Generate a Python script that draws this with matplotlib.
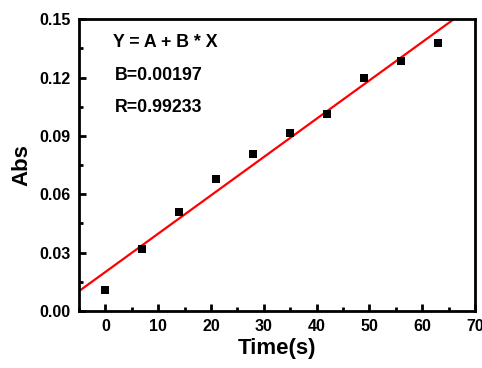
import numpy as np
import matplotlib
matplotlib.use('Agg')
import matplotlib.pyplot as plt
from matplotlib.ticker import MultipleLocator

# absorbance vs time
time_s = [0, 7, 14, 21, 28, 35, 42, 49, 56, 63]
absorb = [0.0106, 0.0320, 0.0509, 0.0678, 0.0809, 0.0913, 0.1014, 0.1198, 0.1286, 0.1375]
fit_text = ['Y = A + B * X', 'B=0.00197', 'R=0.99233']

plt.rcParams['font.family'] = ['Liberation Sans', 'DejaVu Sans']
plt.rcParams['font.weight'] = 'bold'

fig = plt.figure(figsize=(4.82, 3.68), dpi=100)
ax = fig.add_axes([0.164, 0.155, 0.8215, 0.793])

b, a = np.polyfit(time_s, absorb, 1)
xl = np.array([-5, 70])
ax.plot(xl, a + b * xl, color='red', linewidth=1.6, zorder=2)
ax.scatter(time_s, absorb, marker='s', s=30, color='black', zorder=3, linewidths=0)

ax.set_xlim(-5, 70)
ax.set_ylim(0, 0.15)
ax.xaxis.set_major_locator(MultipleLocator(10))
ax.xaxis.set_minor_locator(MultipleLocator(5))
ax.yaxis.set_major_locator(MultipleLocator(0.03))
ax.yaxis.set_minor_locator(MultipleLocator(0.015))
ax.yaxis.set_major_formatter(matplotlib.ticker.FormatStrFormatter('%.2f'))

for sp in ax.spines.values():
    sp.set_linewidth(2)
ax.tick_params(which='major', direction='in', length=5, width=2, labelsize=11.5, pad=6)
ax.tick_params(which='minor', direction='in', length=3, width=2)
ax.tick_params(top=False, right=False)

ax.set_xlabel('Time(s)', fontsize=16, fontweight='bold', labelpad=3)
ax.set_ylabel('Abs', fontsize=16, fontweight='bold', labelpad=5)

for i, t in enumerate(fit_text):
    ax.text(0.085 if i == 0 else 0.09, 0.92 - i * 0.112, t, transform=ax.transAxes,
            fontsize=12.8, fontweight='bold', va='center', ha='left')

fig.savefig('out.png', dpi=100)
